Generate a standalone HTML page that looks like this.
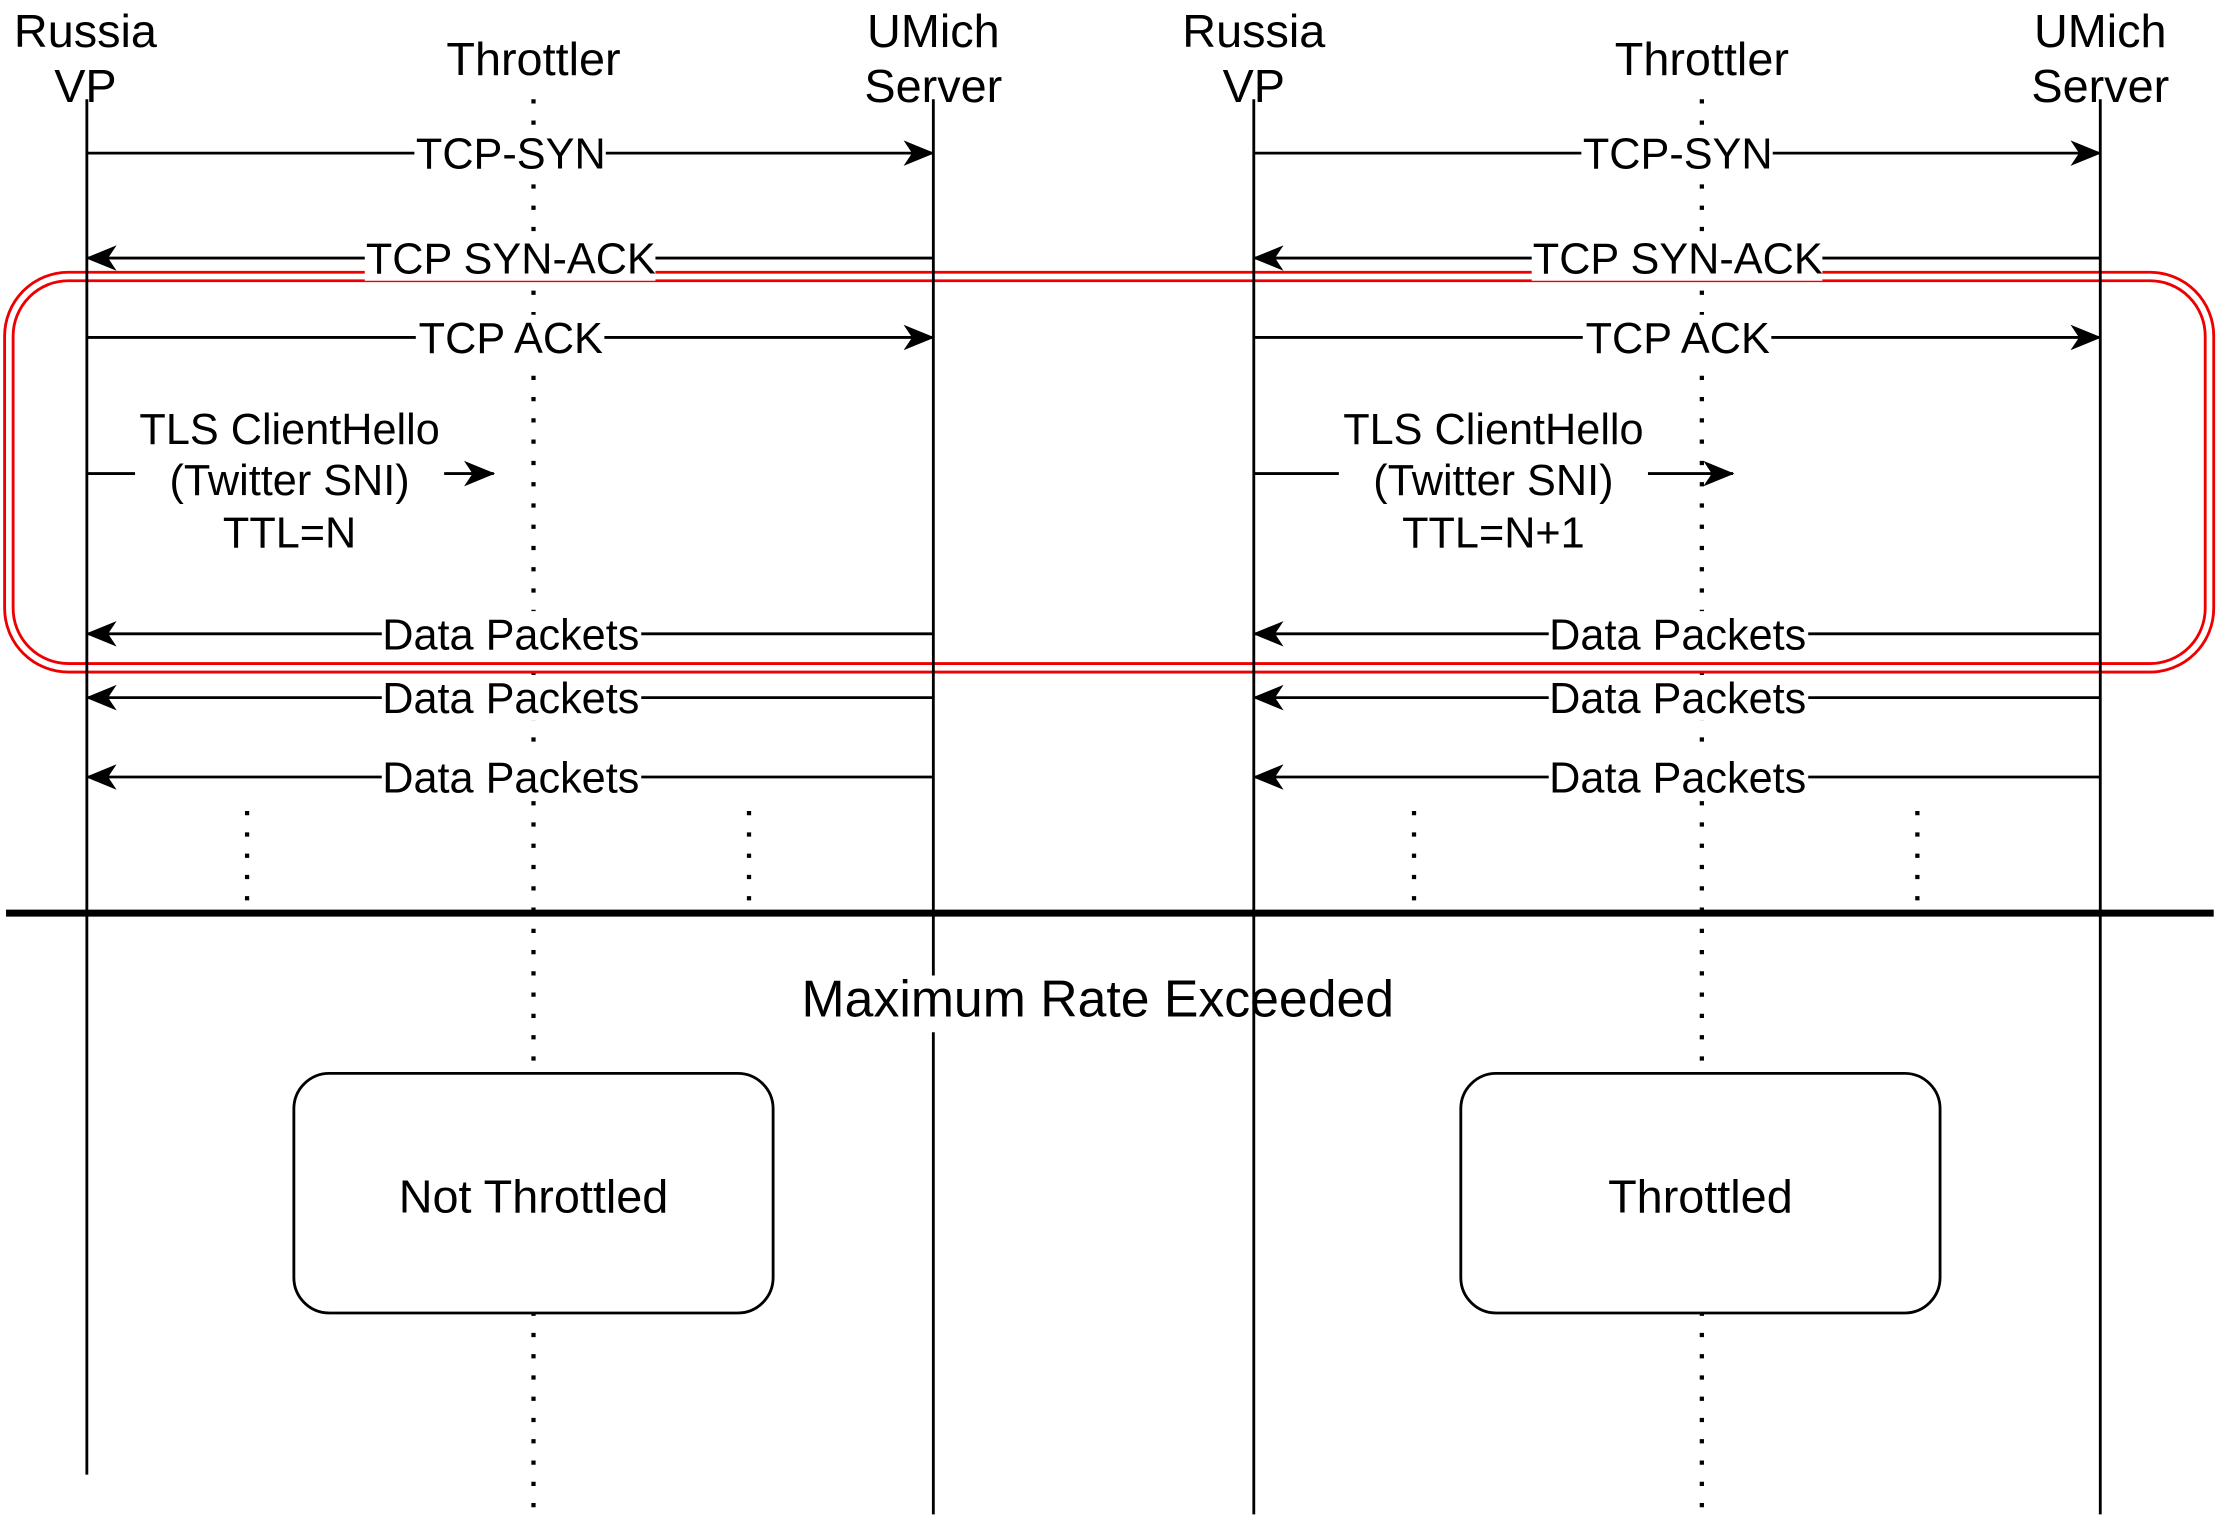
<!DOCTYPE html>
<html><head><meta charset="utf-8"><style>
html,body{margin:0;padding:0;background:#fff;}
svg{display:block;}
text{font-family:"Liberation Sans",Arial,sans-serif;fill:#000;}
</style></head><body>
<svg width="2224" height="1520" viewBox="0 0 1568 1072" xmlns="http://www.w3.org/2000/svg">
<defs>
<marker id="ah" viewBox="0 0 22 18" refX="21" refY="9" markerWidth="22" markerHeight="18" markerUnits="userSpaceOnUse" orient="auto">
<path d="M0,0 L22,9 L0,18 L6,9 z" fill="#000"/>
</marker>
</defs>
<style>
.ll{stroke:#000;stroke-width:2;fill:none}
.dl{stroke:#000;stroke-width:3;stroke-dasharray:3 12;fill:none}
.ar{stroke:#000;stroke-width:2;fill:none;marker-end:url(#ah)}
.lb{font-size:30.5px;text-anchor:middle}
.hd{font-size:33px;text-anchor:middle}
</style>
<!-- red double rounded rect -->
<rect x="6" y="195" width="1552" height="276" rx="42" fill="none" stroke="#e00" stroke-width="8"/>
<rect x="6" y="195" width="1552" height="276" rx="42" fill="none" stroke="#fff" stroke-width="4"/>
<!-- lifelines -->
<line class="ll" x1="61" y1="70" x2="61" y2="1040"/>
<line class="dl" x1="376" y1="70" x2="376" y2="1070"/>
<line class="ll" x1="658" y1="70" x2="658" y2="688"/>
<line class="ll" x1="658" y1="728" x2="658" y2="1068"/>
<line class="ll" x1="884" y1="70" x2="884" y2="1068"/>
<line class="dl" x1="1200" y1="70" x2="1200" y2="1070"/>
<line class="ll" x1="1481" y1="70" x2="1481" y2="1068"/>
<!-- headers -->
<text x="60" y="33" class="hd">Russia</text><text x="60" y="72" class="hd">VP</text>
<text x="376" y="53" class="hd">Throttler</text>
<text x="658" y="33" class="hd">UMich</text><text x="658" y="72" class="hd">Server</text>
<text x="884" y="33" class="hd">Russia</text><text x="884" y="72" class="hd">VP</text>
<text x="1200" y="53" class="hd">Throttler</text>
<text x="1481" y="33" class="hd">UMich</text><text x="1481" y="72" class="hd">Server</text>
<!-- arrows -->
<line class="ar" x1="61" y1="108" x2="658" y2="108"/>
<line class="ar" x1="658" y1="182" x2="61" y2="182"/>
<line class="ar" x1="61" y1="238" x2="658" y2="238"/>
<line class="ll" x1="61" y1="334" x2="95" y2="334"/>
<line class="ar" x1="313" y1="334" x2="348" y2="334"/>
<line class="ar" x1="658" y1="447" x2="61" y2="447"/>
<line class="ar" x1="658" y1="492" x2="61" y2="492"/>
<line class="ar" x1="658" y1="548" x2="61" y2="548"/>
<line class="ar" x1="884" y1="108" x2="1481" y2="108"/>
<line class="ar" x1="1481" y1="182" x2="884" y2="182"/>
<line class="ar" x1="884" y1="238" x2="1481" y2="238"/>
<line class="ll" x1="884" y1="334" x2="944" y2="334"/>
<line class="ar" x1="1162" y1="334" x2="1222" y2="334"/>
<line class="ar" x1="1481" y1="447" x2="884" y2="447"/>
<line class="ar" x1="1481" y1="492" x2="884" y2="492"/>
<line class="ar" x1="1481" y1="548" x2="884" y2="548"/>
<!-- label backgrounds -->
<g fill="#fff">
<rect x="292" y="92" width="135" height="32"/><rect x="1115" y="92" width="135" height="32"/>
<rect x="257" y="166" width="205" height="32"/><rect x="1080" y="166" width="205" height="32"/>
<rect x="293" y="222" width="133" height="32"/><rect x="1116" y="222" width="133" height="32"/>
<rect x="269" y="431" width="183" height="32"/><rect x="1092" y="431" width="183" height="32"/>
<rect x="269" y="476" width="183" height="32"/><rect x="1092" y="476" width="183" height="32"/>
<rect x="269" y="532" width="183" height="32"/><rect x="1092" y="532" width="183" height="32"/>
</g>
<text x="360" y="119" class="lb">TCP-SYN</text><text x="1183" y="119" class="lb">TCP-SYN</text>
<text x="360" y="193" class="lb">TCP SYN-ACK</text><text x="1183" y="193" class="lb">TCP SYN-ACK</text>
<text x="360" y="249" class="lb">TCP ACK</text><text x="1183" y="249" class="lb">TCP ACK</text>
<text x="360" y="458" class="lb">Data Packets</text><text x="1183" y="458" class="lb">Data Packets</text>
<text x="360" y="503" class="lb">Data Packets</text><text x="1183" y="503" class="lb">Data Packets</text>
<text x="360" y="559" class="lb">Data Packets</text><text x="1183" y="559" class="lb">Data Packets</text>
<text x="204" y="313" class="lb">TLS ClientHello</text>
<text x="204" y="349" class="lb">(Twitter SNI)</text>
<text x="204" y="386" class="lb">TTL=N</text>
<text x="1053" y="313" class="lb">TLS ClientHello</text>
<text x="1053" y="349" class="lb">(Twitter SNI)</text>
<text x="1053" y="386" class="lb">TTL=N+1</text>
<!-- ellipsis dots -->
<line class="dl" x1="174" y1="572" x2="174" y2="642"/>
<line class="dl" x1="528" y1="572" x2="528" y2="642"/>
<line class="dl" x1="997" y1="572" x2="997" y2="642"/>
<line class="dl" x1="1352" y1="572" x2="1352" y2="642"/>
<!-- thick line -->
<line x1="4" y1="644" x2="1561" y2="644" stroke="#000" stroke-width="5"/>
<text x="774" y="717" style="font-size:36.5px" text-anchor="middle">Maximum Rate Exceeded</text>
<!-- boxes -->
<rect x="207" y="757" width="338" height="169" rx="25" fill="#fff" stroke="#000" stroke-width="2"/>
<text x="376" y="855" class="lb" style="font-size:33px">Not Throttled</text>
<rect x="1030" y="757" width="338" height="169" rx="25" fill="#fff" stroke="#000" stroke-width="2"/>
<text x="1199" y="855" class="lb" style="font-size:33px">Throttled</text>
</svg>
</body></html>
